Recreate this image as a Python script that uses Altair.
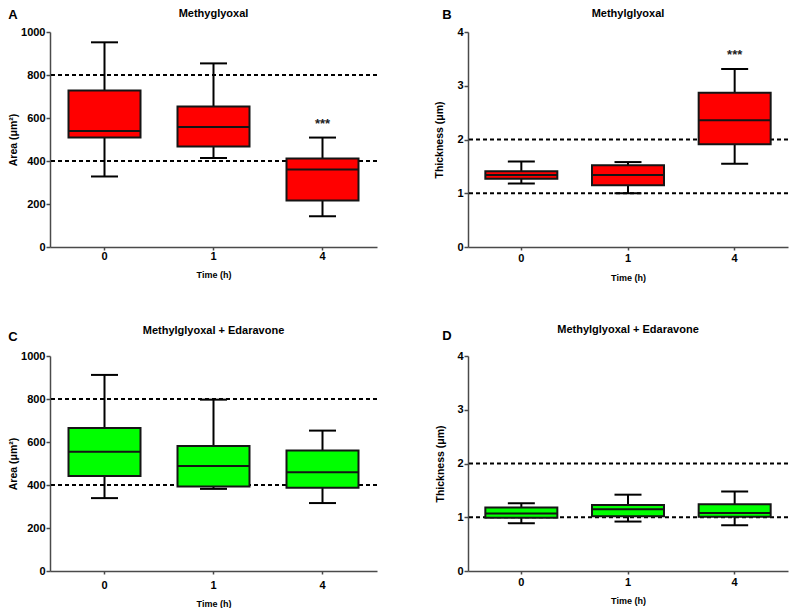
import altair as alt
import pandas as pd

times = ["0", "1", "4"]

# Panel A: Area, Methylglyoxal
a_min = [328, 414, 143]
a_q1 = [509, 468, 216]
a_med = [540, 558, 360]
a_q3 = [728, 653, 412]
a_max = [952, 854, 509]

# Panel B: Thickness, Methylglyoxal
b_min = [1.18, 1.00, 1.55]
b_q1 = [1.27, 1.15, 1.91]
b_med = [1.34, 1.34, 2.36]
b_q3 = [1.41, 1.52, 2.87]
b_max = [1.59, 1.58, 3.31]

# Panel C: Area, Methylglyoxal + Edaravone
c_min = [339, 382, 316]
c_q1 = [442, 393, 387]
c_med = [555, 488, 459]
c_q3 = [665, 581, 561]
c_max = [912, 797, 653]

# Panel D: Thickness, Methylglyoxal + Edaravone
d_min = [0.89, 0.92, 0.85]
d_q1 = [0.99, 1.02, 1.01]
d_med = [1.07, 1.15, 1.08]
d_q3 = [1.18, 1.23, 1.24]
d_max = [1.26, 1.42, 1.48]

ref_area = [400, 800]
ref_thick = [1, 2]
area_ticks = [0, 200, 400, 600, 800, 1000]
thick_ticks = [0, 1, 2, 3, 4]

stars_a_t = ["4"]
stars_a_v = [587]
stars_b_t = ["4"]
stars_b_v = [3.62]

RED = "#ff0000"
GREEN = "#00ff00"
H = 215
FONT = "Liberation Sans"


def panel(letter, title, ytitle, ymax, yticks, mins, q1s, meds, q3s, maxs, refs,
          fill, star_t, star_v, w, ytx, xlp, xty, lx, ly, ty):
    df = pd.DataFrame(dict(t=times, lo=mins, q1=q1s, med=meds, q3=q3s, hi=maxs))
    yscale = alt.Scale(domain=[0, ymax], nice=False, zero=True)
    yaxis = alt.Axis(values=yticks, format="d", tickSize=4, labelPadding=1,
                     titleX=ytx, titleY=H / 2, titleBaseline="middle",
                     titleAlign="center", titleAngle=270)
    xaxis = alt.Axis(title="Time (h)", labelAngle=0, tickSize=3, labelPadding=xlp,
                     titleY=xty, titleBaseline="middle", titleFontSize=9)
    X = alt.X("t:N", sort=times, scale=alt.Scale(paddingInner=0, paddingOuter=0),
              axis=xaxis)

    def Y(f):
        return alt.Y(f"{f}:Q", scale=yscale, axis=yaxis, title=ytitle)

    base = alt.Chart(df)
    refl = alt.Chart(pd.DataFrame({"r": refs})).mark_rule(
        strokeDash=[4, 3], strokeWidth=2, color="black").encode(y=Y("r"))
    whisk = base.mark_rule(color="black", strokeWidth=2).encode(
        x=X, y=Y("lo"), y2="hi")
    box = base.mark_bar(size=72, color=fill, stroke="#151515", strokeWidth=2,
                        opacity=1).encode(x=X, y=Y("q1"), y2="q3")
    cap_lo = base.mark_tick(size=27, thickness=2, color="black", opacity=1).encode(
        x=X, y=Y("lo"))
    cap_hi = base.mark_tick(size=27, thickness=2, color="black", opacity=1).encode(
        x=X, y=Y("hi"))
    med = base.mark_tick(size=72, thickness=2, color="#151515", opacity=1).encode(
        x=X, y=Y("med"))
    lay = [refl, whisk, box, cap_lo, cap_hi, med]
    if star_t:
        st = alt.Chart(pd.DataFrame({"t": star_t, "v": star_v})).mark_text(
            text="***", fontSize=13, fontWeight="bold", baseline="middle", dy=3,
            font=FONT, color="#222").encode(x=X, y=Y("v"))
        lay.append(st)
    let = alt.Chart(pd.DataFrame({"l": [letter]})).mark_text(
        fontSize=13, fontWeight="bold", baseline="middle", align="center",
        font=FONT).encode(text="l:N", x=alt.value(lx), y=alt.value(ly))
    tit = alt.Chart(pd.DataFrame({"l": [title]})).mark_text(
        fontSize=11, fontWeight="bold", baseline="middle", align="center",
        font=FONT).encode(text="l:N", x=alt.value(w / 2), y=alt.value(ty))
    lay += [let, tit]
    return alt.layer(*lay).properties(width=w, height=H)


A = panel("A", "Methyglyoxal", "Area (\u03bcm\u00b2)", 1000, area_ticks,
          a_min, a_q1, a_med, a_q3, a_max, ref_area, RED, stars_a_t, stars_a_v,
          327, -37, 0, 27, -37, -17, -18)
B = panel("B", "Methylglyoxal", "Thickness (\u03bcm)", 4, thick_ticks,
          b_min, b_q1, b_med, b_q3, b_max, ref_thick, RED, stars_b_t, stars_b_v,
          320, -29, 2, 30, -21, -17, -18)
C = panel("C", "Methylglyoxal + Edaravone", "Area (\u03bcm\u00b2)", 1000, area_ticks,
          c_min, c_q1, c_med, c_q3, c_max, ref_area, GREEN, [], [],
          327, -37, 5, 32, -37, -19, -25)
D = panel("D", "Methylglyoxal + Edaravone", "Thickness (\u03bcm)", 4, thick_ticks,
          d_min, d_q1, d_med, d_q3, d_max, ref_thick, GREEN, [], [],
          320, -28, 2, 29, -21, -20, -26)

chart = alt.concat(A, B, C, D, columns=2, spacing={"row": 42, "column": 56}).properties(
    padding={"left": 0, "top": 0, "right": 0, "bottom": 0}
).configure_view(stroke=None).configure_axis(
    grid=False, domainColor="#4a4a4a", domainWidth=1.5, tickColor="#4a4a4a",
    tickWidth=1.5, labelColor="black", labelFont=FONT, labelFontSize=11,
    labelFontWeight="bold", titleFont=FONT, titleFontSize=10.5,
    titleFontWeight="bold", titleColor="black"
)

chart.save("out.html", embed_options={"renderer": "svg", "actions": False})
